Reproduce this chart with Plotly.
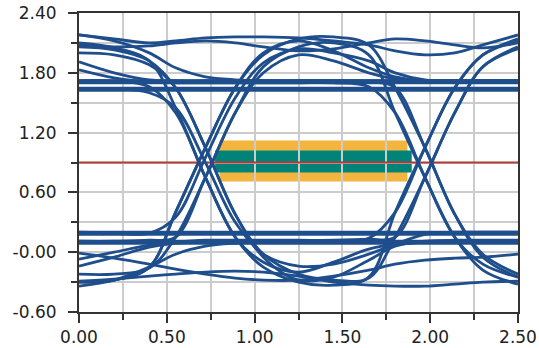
import plotly.graph_objects as go

# ---- data ----
# common sample times (x) for every waveform trace
T = [0.00, 0.20, 0.40, 0.55, 0.72, 0.89, 1.05, 1.25, 1.45, 1.65, 1.80, 1.97, 2.14, 2.30, 2.50]

# waveform traces (voltage at each sample time)
W01 = [1.72] * 15
W02 = [1.70] * 15
W03 = [1.645] * 15
W04 = [1.625] * 15
W05 = [0.20] * 15
W06 = [0.18] * 15
W07 = [0.11] * 15
W08 = [0.09] * 15
W09 = [2.10, 2.05, 1.92, 1.45, 0.75, 0.15, -0.15, -0.30, -0.33, -0.25, 0.40, 1.05, 1.65, 1.98, 2.14]
W10 = [2.00, 1.98, 1.88, 1.65, 1.05, 0.38, -0.02, -0.22, -0.28, -0.26, 0.15, 0.75, 1.40, 1.86, 2.06]
W11 = [-0.30, -0.28, -0.15, 0.40, 1.05, 1.65, 1.98, 2.14, 2.16, 2.08, 1.65, 1.05, 0.38, -0.05, -0.25]
W12 = [-0.22, -0.22, -0.16, 0.15, 0.75, 1.40, 1.86, 2.06, 2.10, 1.98, 1.40, 0.75, 0.15, -0.18, -0.32]
W13 = [1.72, 1.72, 1.66, 1.40, 0.75, 0.15, -0.10, -0.20, -0.10, 0.03, 0.08, 0.10, 0.11, 0.11, 0.11]
W14 = [2.06, 2.03, 1.92, 1.65, 1.05, 0.38, -0.05, -0.28, -0.25, -0.08, 0.06, 0.11, 0.12, 0.12, 0.12]
W15 = [0.11, 0.11, 0.12, 0.15, 0.75, 1.40, 1.80, 1.98, 1.92, 1.80, 1.74, 1.72, 1.72, 1.72, 1.72]
W16 = [-0.30, -0.28, -0.15, 0.40, 1.05, 1.65, 2.00, 2.12, 2.02, 1.85, 1.76, 1.72, 1.71, 1.71, 1.71]
W17 = [1.91, 1.80, 1.73, 1.72, 1.72, 1.72, 1.72, 1.72, 1.72, 1.71, 1.65, 1.05, 0.38, -0.02, -0.22]
W18 = [1.83, 1.75, 1.71, 1.70, 1.70, 1.70, 1.70, 1.70, 1.70, 1.66, 1.40, 0.75, 0.15, -0.12, -0.25]
W19 = [-0.14, -0.05, 0.05, 0.09, 0.10, 0.10, 0.10, 0.10, 0.10, 0.14, 0.40, 1.05, 1.65, 1.98, 2.12]
W20 = [-0.07, 0.00, 0.07, 0.10, 0.12, 0.12, 0.12, 0.12, 0.12, 0.13, 0.15, 0.75, 1.40, 1.86, 2.04]
W21 = [2.18, 2.12, 2.00, 1.85, 1.76, 1.73, 1.72, 1.72, 1.72, 1.72, 1.72, 1.72, 1.72, 1.72, 1.72]
W22 = [-0.34, -0.28, -0.15, -0.02, 0.06, 0.09, 0.10, 0.10, 0.10, 0.10, 0.10, 0.10, 0.10, 0.10, 0.10]
W23 = [0.20, 0.19, 0.19, 0.35, 0.95, 1.55, 1.90, 2.04, 2.00, 1.92, 1.80, 1.73, 1.72, 1.72, 1.72]
W24 = [1.64, 1.64, 1.60, 1.45, 0.90, 0.30, -0.02, -0.14, -0.12, -0.02, 0.08, 0.18, 0.20, 0.20, 0.20]
W25 = [2.18, 2.14, 2.10, 2.12, 2.15, 2.16, 2.16, 2.15, 2.12, 2.08, 2.02, 1.98, 2.00, 2.08, 2.18]
W26 = [2.08, 2.06, 2.07, 2.10, 2.12, 2.10, 2.06, 2.02, 2.04, 2.10, 2.14, 2.12, 2.08, 2.05, 2.10]
W27 = [-0.29, -0.27, -0.24, -0.22, -0.20, -0.19, -0.20, -0.24, -0.30, -0.33, -0.34, -0.34, -0.32, -0.30, -0.29]
W28 = [-0.01, -0.06, -0.12, -0.17, -0.22, -0.26, -0.28, -0.28, -0.24, -0.18, -0.12, -0.08, -0.06, -0.05, -0.02]

WAVES = [W01, W02, W03, W04, W05, W06, W07, W08, W09, W10, W11, W12, W13, W14,
         W15, W16, W17, W18, W19, W20, W21, W22, W23, W24, W25, W26, W27, W28]

# threshold line and eye mask
THRESH_X = [0.0, 2.5]
THRESH_Y = [0.9, 0.9]
MASK_OUTER_X = [0.80, 1.87]
MASK_OUTER_Y = [0.71, 1.12]
MASK_INNER_X = [0.775, 1.895]
MASK_INNER_Y = [0.80, 1.02]

X_TICKS = [0.0, 0.5, 1.0, 1.5, 2.0, 2.5]
X_LABELS = ["0.00", "0.50", "1.00", "1.50", "2.00", "2.50"]
Y_TICKS = [-0.6, 0.0, 0.6, 1.2, 1.8, 2.4]
Y_LABELS = ["-0.60", "-0.00", "0.60", "1.20", "1.80", "2.40"]

BLUE = "#1f4e8c"
ORANGE = "#f4b53e"
TEAL = "#00847a"
RED = "#b23a36"
GRID = "#cccccc"
AXIS = "#333333"

fig = go.Figure()

fig.add_trace(go.Scatter(x=THRESH_X, y=THRESH_Y, mode="lines",
                         line=dict(color=RED, width=2), hoverinfo="skip"))

for w in WAVES:
    fig.add_trace(go.Scatter(x=T, y=w, mode="lines",
                             line=dict(color=BLUE, width=2.8, shape="spline", smoothing=1.0),
                             hoverinfo="skip"))

fig.add_shape(type="rect", xref="x", yref="y", layer="below",
              x0=MASK_OUTER_X[0], x1=MASK_OUTER_X[1], y0=MASK_OUTER_Y[0], y1=MASK_OUTER_Y[1],
              fillcolor=ORANGE, line=dict(width=0))
fig.add_shape(type="rect", xref="x", yref="y", layer="below",
              x0=MASK_INNER_X[0], x1=MASK_INNER_X[1], y0=MASK_INNER_Y[0], y1=MASK_INNER_Y[1],
              fillcolor=TEAL, line=dict(width=0))

font = dict(family="DejaVu Sans", size=17, color="#222222")

fig.update_layout(
    width=539, height=348,
    margin=dict(l=79, r=21, t=13, b=36, autoexpand=False),
    paper_bgcolor="white", plot_bgcolor="white",
    showlegend=False,
    font=font,
)
fig.update_xaxes(
    range=[0, 2.5], tickvals=X_TICKS, ticktext=X_LABELS, automargin=False,
    showgrid=True, gridcolor=GRID, gridwidth=1.5,
    showline=True, linecolor=AXIS, linewidth=2, mirror=True,
    ticks="outside", ticklen=9, tickwidth=1.5, tickcolor=AXIS,
    minor=dict(dtick=0.25, tick0=0, ticks="outside", ticklen=6, tickwidth=1.5,
               tickcolor=AXIS, showgrid=True, gridcolor=GRID, gridwidth=1.5),
    zeroline=False, tickfont=font,
)
fig.update_yaxes(
    range=[-0.6, 2.4], tickvals=Y_TICKS, ticktext=Y_LABELS, automargin=False,
    showgrid=True, gridcolor=GRID, gridwidth=1.5,
    showline=True, linecolor=AXIS, linewidth=2, mirror=True,
    ticks="outside", ticklen=9, tickwidth=1.5, tickcolor=AXIS,
    minor=dict(dtick=0.3, tick0=0, ticks="outside", ticklen=6, tickwidth=1.5,
               tickcolor=AXIS, showgrid=True, gridcolor=GRID, gridwidth=1.5),
    zeroline=False, tickfont=font, ticklabelstandoff=8,
)

fig.write_html("out.html", config={"displayModeBar": False},
               post_script="document.body.style.margin='0';document.body.style.overflow='hidden';")
